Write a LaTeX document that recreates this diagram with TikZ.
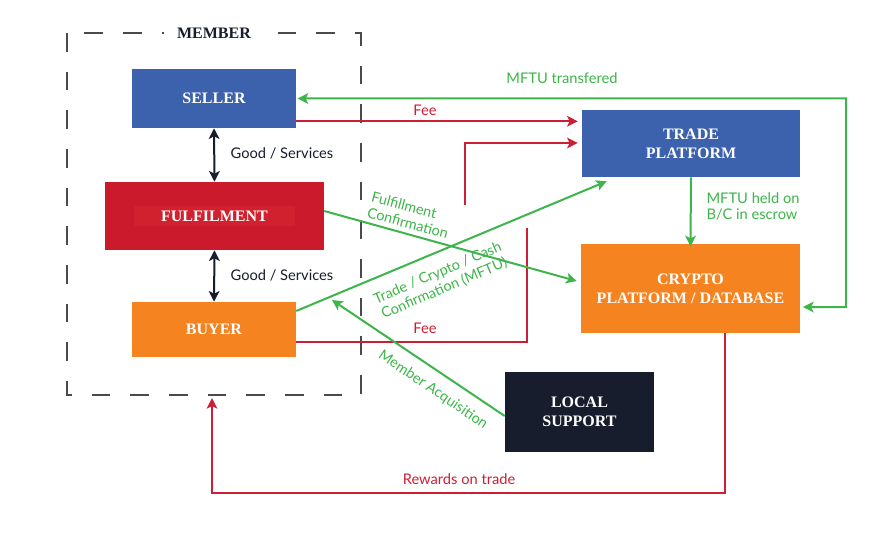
\documentclass[tikz,border=0pt]{standalone}
\usepackage{fontspec}
\setmainfont{Lato}
\newfontfamily\boxfont{Liberation Serif}
\usetikzlibrary{arrows.meta,calc}
\definecolor{cblue}{HTML}{3D62AD}
\definecolor{cred}{HTML}{CB1A2C}
\definecolor{credl}{HTML}{D1202E}
\definecolor{corange}{HTML}{F5831F}
\definecolor{cnavy}{HTML}{181D2E}
\definecolor{cgreen}{HTML}{3DB54A}
\definecolor{cline}{HTML}{CC1F36}
\definecolor{cdash}{HTML}{4A4A4A}
\begin{document}
\begin{tikzpicture}[x=0.75pt,y=-0.75pt,
  boxnode/.style={inner sep=0pt,align=center,text=white,
    font=\boxfont\bfseries\fontsize{12}{14}\selectfont},
  lbl/.style={inner sep=1pt,font=\fontsize{11}{13}\selectfont},
  rotlbl/.style={inner sep=1pt,font=\fontsize{10.8}{12.5}\selectfont,text=cgreen},
  glbl/.style={lbl,text=cgreen},
  rlbl/.style={lbl,text=cline},
  garrow/.style={draw=cgreen,line width=1.5pt,-{Stealth[length=8pt,width=8pt,inset=2pt]}},
  rarrow/.style={draw=cline,line width=1.5pt,-{Stealth[length=8pt,width=8pt,inset=2pt]}},
  rline/.style={draw=cline,line width=1.5pt},
  narrow/.style={draw=cnavy,line width=1.5pt,{Stealth[length=8pt,width=8pt,inset=2pt]}-{Stealth[length=8pt,width=8pt,inset=2pt]}}]
\useasboundingbox[fill=white] (0,0) rectangle (889,538);

% member dashed box
\draw[cdash,line width=1pt,dash pattern=on 14pt off 15pt] (67,33) rectangle (361,395);
\node[fill=white,inner xsep=10pt,inner ysep=2pt,font=\boxfont\bfseries\fontsize{12}{14}\selectfont,text=cnavy] (member) at (214,33) {MEMBER};

% boxes
\node[boxnode,fill=cblue,minimum width=123pt,minimum height=44.25pt] (seller) at (214,98.5) {SELLER};
\node[fill=cred,minimum width=164.25pt,minimum height=51pt,inner sep=0pt] (fulfil) at (214.5,216) {};
\node[boxnode,fill=credl,minimum width=120.75pt,minimum height=15pt] (fulfiltext) at (fulfil.center) {FULFILMENT};
\node[boxnode,fill=corange,minimum width=123pt,minimum height=41.25pt] (buyer) at (214,329.5) {BUYER};
\node[boxnode,fill=cblue,minimum width=163.5pt,minimum height=50.25pt] (trade) at (691,143.5) {TRADE\\PLATFORM};
\node[boxnode,fill=corange,minimum width=164.25pt,minimum height=66.75pt] (crypto) at (690.5,288.5) {CRYPTO\\PLATFORM / DATABASE};
\node[boxnode,fill=cnavy,minimum width=111.75pt,minimum height=60pt] (local) at (579.5,412) {LOCAL\\SUPPORT};

% goods / services
\draw[narrow] (seller.south) -- (fulfil.north);
\draw[narrow] (fulfil.south) -- (buyer.north);
\node[lbl,anchor=west,text=cnavy] (gs1) at (229,153) {Good / Services};
\node[lbl,anchor=west,text=cnavy] (gs2) at (229,275) {Good / Services};

% MFTU transferred
\coordinate (mtR) at (846,307);
\coordinate (mtE) at ([yshift=-13.9pt]crypto.east);
\draw[garrow,{Stealth[length=8pt,width=8pt,inset=2pt]}-{Stealth[length=8pt,width=8pt,inset=2pt]}]
  ([xshift=1pt]seller.east) -| (mtR) -- ([xshift=2pt]mtE);
\node[glbl] (mtl) at (562,78) {MFTU transfered};

% seller fee
\coordinate (sf) at ([yshift=5.25pt]seller.south east);
\draw[rarrow] (sf) -- ([xshift=-3pt]trade.west |- sf);
\node[rlbl] (fee1) at (425,110) {Fee};

% buyer fee (broken path)
\coordinate (bf) at ([yshift=11.25pt]buyer.south east);
\coordinate (bfT) at (527,228);
\draw[rline] (bf) -| (bfT);
\coordinate (tfS) at (465,205);
\draw[rarrow] (tfS) |- ([xshift=-3pt,yshift=0.4pt]trade.west);
\node[rlbl] (fee2) at (425,328) {Fee};

% fulfilment confirmation
\draw[garrow] ([yshift=3.75pt]fulfil.east) -- ([xshift=-3pt,yshift=5.6pt]crypto.west);
\node[rotlbl,align=left,rotate=-15] (fcl) at (410,215) {Fulfillment\\Confirmation};

% trade / crypto / cash confirmation
\draw[garrow] ([yshift=13.9pt]buyer.east) -- ([xshift=18.75pt,yshift=-3pt]trade.south west);
\node[rotlbl,align=center,rotate=23] (tcl) at (441,281) {Trade / Crypto / Cash\\Confirmation (MFTU)};

% member acquisition
\coordinate (maE) at (332,300);
\draw[garrow] ([yshift=-3pt]local.west) -- (maE);
\node[rotlbl,rotate=-34] (mal) at (433,390) {Member Acquisition};

% MFTU held
\draw[garrow] (trade.south) -- ([yshift=-2pt]crypto.north);
\node[glbl,align=left,anchor=north west,font=\fontsize{11}{12}\selectfont] (mhl) at (705,191) {MFTU held on\\B/C in escrow};

% rewards
\coordinate (rwS) at ([xshift=25.5pt]crypto.south);
\coordinate (rwC) at (212,493);
\coordinate (rwE) at (212,398);
\draw[rarrow] (rwS) |- (rwC) -- (rwE);
\node[rlbl] (rwl) at (459,479) {Rewards on trade};
\end{tikzpicture}
\end{document}
